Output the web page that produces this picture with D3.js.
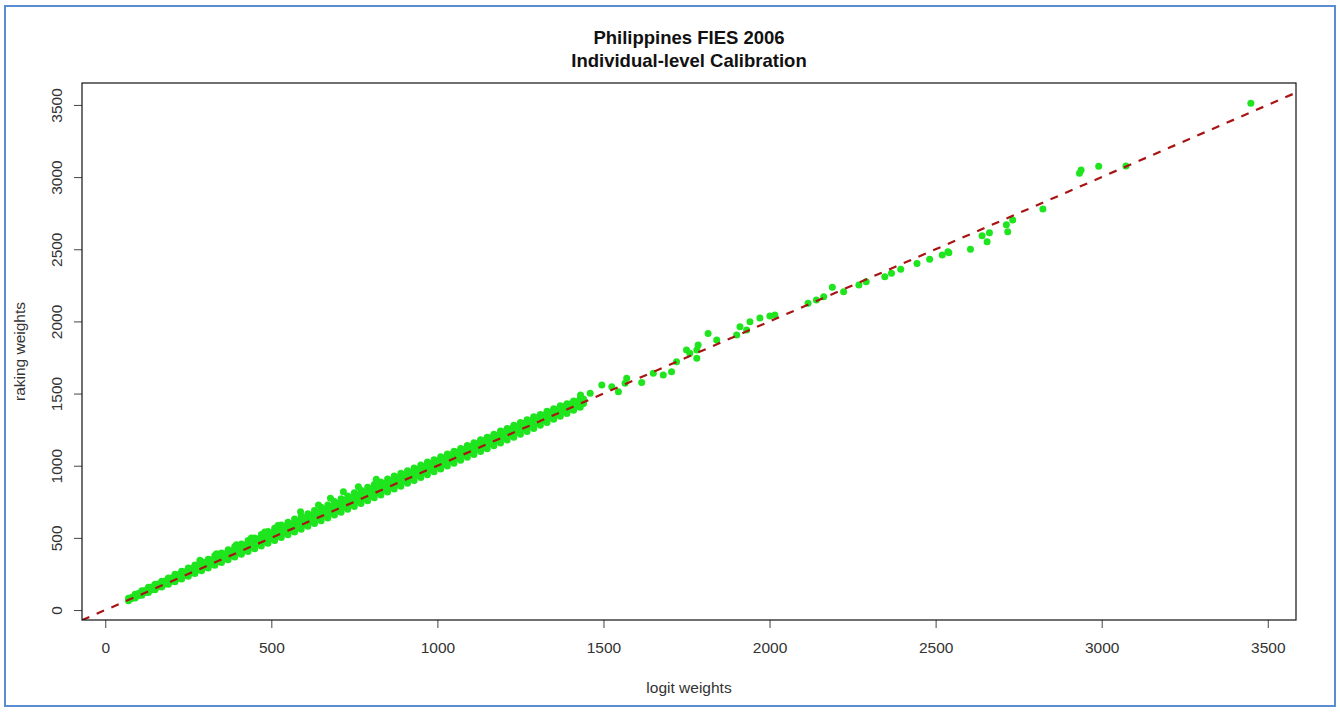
<!DOCTYPE html>
<html>
<head>
<meta charset="utf-8">
<script src="https://cdn.jsdelivr.net/npm/d3@7"></script>
<style>
  body { margin: 0; background: #fff; }
  svg { display: block; font-family: "Liberation Sans", Arial, sans-serif; }
</style>
</head>
<body>
<div id="chart"></div>
<script>
const width = 1340;
const height = 713;

// titles and tick labels
const titleLines = ["Philippines FIES 2006", "Individual-level Calibration"];
const xLabel = "logit weights";
const yLabel = "raking weights";
const xTicks = [0, 500, 1000, 1500, 2000, 2500, 3000, 3500];
const yTicks = [0, 500, 1000, 1500, 2000, 2500, 3000, 3500];

// dense band of points: x positions and low / middle / high y values
const bandX = [70, 90, 110, 130, 150, 170, 190, 210, 230, 250, 270, 290, 310, 330, 350, 370, 390,
  410, 430, 450, 470, 490, 510, 530, 550, 570, 590, 610, 630, 650, 670, 690, 710, 730, 750, 770,
  790, 810, 830, 850, 870, 890, 910, 930, 950, 970, 990, 1010, 1030, 1050, 1070, 1090, 1110,
  1130, 1150, 1170, 1190, 1210, 1230, 1250, 1270, 1290, 1310, 1330, 1350, 1370, 1390, 1410, 1430];
const bandLow = [65, 84, 103, 122, 141, 160, 178, 196, 215, 234, 254, 273, 292, 311, 330, 349, 367,
  386, 405, 424, 444, 463, 482, 502, 521, 540, 560, 580, 600, 618, 638, 658, 678, 698, 718, 738,
  758, 778, 798, 818, 838, 858, 878, 898, 918, 938, 958, 978, 998, 1018, 1038, 1058, 1078,
  1098, 1118, 1138, 1158, 1178, 1198, 1218, 1238, 1258, 1280, 1300, 1322, 1342, 1362, 1385, 1405];
const bandMid = [75, 98, 120, 141, 162, 182, 203, 222, 243, 262, 284, 303, 324, 343, 363, 384, 404,
  424, 445, 465, 485, 505, 525, 546, 565, 585, 606, 625, 645, 665, 686, 706, 726, 746, 766, 786,
  806, 826, 846, 866, 886, 906, 926, 946, 966, 986, 1006, 1026, 1046, 1066, 1086, 1106, 1126,
  1146, 1166, 1186, 1206, 1226, 1246, 1266, 1286, 1306, 1326, 1345, 1365, 1384, 1404, 1420, 1440];
const bandHigh = [82, 110, 133, 158, 178, 200, 222, 248, 268, 292, 312, 335, 352, 378, 396, 418, 440,
  458, 482, 500, 524, 545, 566, 590, 608, 630, 652, 668, 690, 712, 728, 752, 772, 790, 812, 830,
  850, 870, 888, 908, 928, 948, 965, 985, 1005, 1025, 1042, 1062, 1082, 1100, 1120, 1140, 1160,
  1180, 1198, 1218, 1240, 1258, 1280, 1300, 1318, 1340, 1355, 1378, 1395, 1415, 1430, 1448, 1465];

// second, staggered set of band points filling the gaps between the rows
const band2X = [80, 100, 120, 140, 160, 180, 200, 220, 240, 260, 280, 300, 320, 340, 360, 380, 400,
  420, 440, 460, 480, 500, 520, 540, 560, 580, 600, 620, 640, 660, 680, 700, 720, 740, 760, 780,
  800, 820, 840, 860, 880, 900, 920, 940, 960, 980, 1000, 1020, 1040, 1060, 1080, 1100, 1120,
  1140, 1160, 1180, 1200, 1220, 1240, 1260, 1280, 1300, 1320, 1340, 1360, 1380, 1400, 1420, 1440];
const band2Low = [80, 101, 121, 141, 161, 181, 200, 219, 239, 258, 279, 298, 318, 337, 356, 376, 395,
  415, 435, 454, 474, 494, 513, 534, 553, 572, 593, 612, 632, 651, 672, 692, 712, 732, 752, 772,
  792, 812, 832, 852, 872, 892, 912, 932, 952, 972, 992, 1012, 1032, 1052, 1072, 1092, 1112,
  1132, 1152, 1172, 1192, 1212, 1232, 1252, 1272, 1292, 1313, 1332, 1353, 1373, 1393, 1412, 1432];
const band2High = [88, 114, 136, 159, 180, 201, 222, 245, 265, 287, 308, 329, 348, 370, 389, 411, 432,
  451, 473, 492, 514, 535, 555, 578, 596, 617, 639, 656, 677, 698, 717, 739, 759, 778, 799, 818,
  838, 858, 877, 897, 917, 937, 955, 975, 995, 1015, 1034, 1054, 1074, 1093, 1113, 1133, 1153,
  1173, 1192, 1212, 1233, 1252, 1273, 1293, 1312, 1333, 1350, 1371, 1390, 1409, 1427, 1444, 1462];

// spikes on the upper edge of the band
const spikeX = [285, 335, 395, 440, 480, 520, 588, 642, 678, 717, 762, 816];
const spikeY = [345, 390, 452, 500, 540, 585, 681, 728, 774, 820, 855, 906];

// scattered points above 1400
const sparseX = [1431, 1460, 1495, 1525, 1545, 1570, 1565, 1615, 1650, 1680, 1705, 1720, 1750, 1781,
  1785, 1781, 1760, 1815, 1841, 1901, 1931, 1911, 1941, 1971, 2001, 2016,
  2116, 2141, 2163, 2189, 2223, 2269, 2291, 2347, 2367, 2395, 2444, 2482, 2520, 2537,
  2540, 2605, 2640, 2655, 2662, 2713, 2717, 2732, 2823, 2933, 2938, 2991, 3073, 3449];
const sparseY = [1490, 1502, 1559, 1548, 1513, 1606, 1571, 1576, 1640, 1629, 1652, 1721, 1802, 1744,
  1836, 1802, 1779, 1917, 1871, 1906, 1940, 1963, 1998, 2024, 2037, 2044,
  2125, 2148, 2171, 2236, 2206, 2252, 2275, 2310, 2333, 2361, 2402, 2430, 2460, 2483,
  2476, 2500, 2594, 2552, 2615, 2670, 2622, 2703, 2779, 3026, 3049, 3075, 3077, 3511];

// reference line y = x
const lineX = [-70, 3585];

const points = [];
bandX.forEach((x, i) => {
  points.push([x, bandLow[i]], [x, bandMid[i]], [x, bandHigh[i]]);
});
band2X.forEach((x, i) => {
  points.push([x, band2Low[i]], [x, band2High[i]]);
});
spikeX.forEach((x, i) => points.push([x, spikeY[i]]));
sparseX.forEach((x, i) => points.push([x, sparseY[i]]));

const box = { left: 82, right: 1296, top: 83, bottom: 620 };

const svg = d3.select("#chart")
  .append("svg")
  .attr("width", width)
  .attr("height", height);

// blue frame around the picture
svg.append("rect")
  .attr("x", 5).attr("y", 6)
  .attr("width", 1330).attr("height", 700)
  .attr("fill", "none")
  .attr("stroke", "#5b8bd3")
  .attr("stroke-width", 2);

const x = d3.scaleLinear().domain([-70, 3585]).range([box.left, box.right]);
const y = d3.scaleLinear().domain([-69, 3652]).range([box.bottom, box.top]);

svg.append("clipPath").attr("id", "plot-clip")
  .append("rect")
  .attr("x", box.left).attr("y", box.top)
  .attr("width", box.right - box.left).attr("height", box.bottom - box.top);

const plot = svg.append("g").attr("clip-path", "url(#plot-clip)");

plot.selectAll("circle")
  .data(points)
  .enter()
  .append("circle")
  .attr("cx", d => x(d[0]))
  .attr("cy", d => y(d[1]))
  .attr("r", 3.5)
  .attr("fill", "#1ee51e");

plot.append("line")
  .attr("x1", x(lineX[0])).attr("y1", y(lineX[0]))
  .attr("x2", x(lineX[1])).attr("y2", y(lineX[1]))
  .attr("stroke", "#a81414")
  .attr("stroke-width", 2.2)
  .attr("stroke-dasharray", "8,8");

// axes
const xAxis = svg.append("g")
  .attr("transform", `translate(0,${box.bottom})`)
  .call(d3.axisBottom(x).tickValues(xTicks).tickSize(8).tickPadding(14).tickFormat(d3.format("d")));
const yAxis = svg.append("g")
  .attr("transform", `translate(${box.left},0)`)
  .call(d3.axisLeft(y).tickValues(yTicks).tickSize(8).tickFormat(d3.format("d")));

[xAxis, yAxis].forEach(g => {
  g.select(".domain").remove();
  g.selectAll("line").attr("stroke", "#444");
  g.selectAll("text").attr("fill", "#333").style("font-size", "15.5px");
});

yAxis.selectAll("text")
  .attr("x", null).attr("dy", null)
  .attr("text-anchor", "middle")
  .attr("transform", "translate(-20,0) rotate(-90)");

// plot box
svg.append("rect")
  .attr("x", box.left).attr("y", box.top)
  .attr("width", box.right - box.left).attr("height", box.bottom - box.top)
  .attr("fill", "none")
  .attr("stroke", "#111")
  .attr("stroke-width", 1.2);

// title
titleLines.forEach((t, i) => {
  svg.append("text")
    .attr("x", (box.left + box.right) / 2)
    .attr("y", 44 + i * 23)
    .attr("text-anchor", "middle")
    .style("font-size", "18.5px")
    .style("font-weight", "bold")
    .attr("fill", "#111")
    .text(t);
});

svg.append("text")
  .attr("x", (box.left + box.right) / 2)
  .attr("y", 693)
  .attr("text-anchor", "middle")
  .style("font-size", "15.5px")
  .attr("fill", "#333")
  .text(xLabel);

svg.append("text")
  .attr("transform", `translate(25,${(box.top + box.bottom) / 2}) rotate(-90)`)
  .attr("text-anchor", "middle")
  .style("font-size", "15.5px")
  .attr("fill", "#333")
  .text(yLabel);
</script>
</body>
</html>
